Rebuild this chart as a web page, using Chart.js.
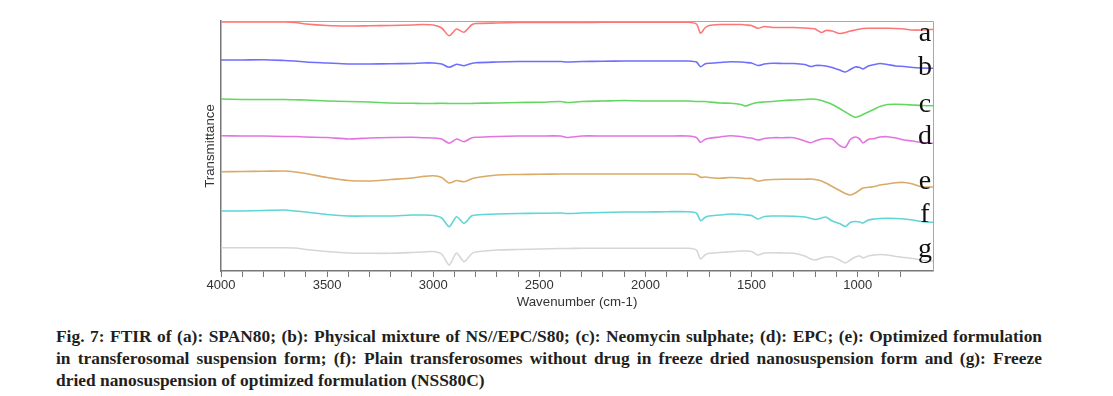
<!DOCTYPE html>
<html>
<head>
<meta charset="utf-8">
<script src="https://cdn.jsdelivr.net/npm/chart.js@4"></script>
<style>
  body { margin: 0; background: #fff; width: 1113px; height: 396px; overflow: hidden; position: relative; }
  #wrap { position: absolute; left: 0; top: 0; width: 1113px; height: 310px; }
  .cap { position: absolute; left: 56px; width: 986px; font: bold 17.4px "Liberation Serif", "Times New Roman", serif; line-height: 20px; color: #231f20; white-space: nowrap; }
  .cap.j { text-align: justify; text-align-last: justify; white-space: normal; }
</style>
</head>
<body>
<div id="wrap"><canvas id="ftirChart" width="1113" height="310"></canvas></div>
<div class="cap j" style="top:326px">Fig. 7: FTIR of (a): SPAN80; (b): Physical mixture of NS//EPC/S80; (c): Neomycin sulphate; (d): EPC; (e): Optimized formulation</div>
<div class="cap j" style="top:348px">in transferosomal suspension form; (f): Plain transferosomes without drug in freeze dried nanosuspension form and (g): Freeze</div>
<div class="cap" style="top:370px">dried nanosuspension of optimized formulation (NSS80C)</div>
<script>
// wavenumber grid (cm-1)
var wavenumbers = [4000, 3900, 3800, 3700, 3650, 3600, 3500, 3400, 3300, 3200, 3100, 3050,
  3000, 2960, 2925, 2890, 2855, 2820, 2800, 2700, 2600, 2500, 2400, 2370, 2300,
  2200, 2100, 2000, 1900, 1800, 1760, 1740, 1720, 1700, 1650, 1600, 1550, 1527, 1500, 1470, 1440, 1400,
  1350, 1300, 1250, 1220, 1200, 1170, 1150, 1120, 1085, 1058,
  1035, 1011, 990, 975, 950, 920, 895, 860, 820, 780, 740, 700, 660, 645];

// transmittance traces (stacked, arbitrary units)
var specA = [249, 249, 249, 249, 248.5, 247, 245.5, 245, 245.2, 245.5, 246, 246.5,
  246, 243, 235.3, 242, 238.7, 246, 247.5, 248, 248.5, 248.5, 248.5, 248.5, 248.5,
  248.7, 248.7, 248.7, 248.7, 248.7, 247, 237.7, 243, 245.5, 246.5, 246.5, 246.5, 246, 245.5, 242.7, 244.5, 243.5,
  243.5, 243.5, 243, 242.5, 242, 238.5, 240.5, 240, 237.5, 238.5,
  240, 241, 242, 242.5, 242.7, 242.7, 242.7, 242.7, 242.5, 242, 241, 241, 241.5, 241.5];
var specB = [211, 211, 211.2, 210.5, 210, 209, 208, 207, 207, 207.3, 207.5, 208,
  208, 207, 203.7, 206.7, 205.3, 207.5, 208.3, 209, 209.5, 209.5, 209.5, 209, 209.5,
  209.7, 210, 210, 210, 210, 209, 204.3, 207, 207.7, 208.5, 209.3, 209, 208.5, 208, 205.5, 207, 207.7,
  207.5, 207.5, 206.5, 204.5, 205.5, 205.5, 205, 203.5, 201, 199,
  201.5, 204, 203.5, 202, 205, 206.5, 207.5, 206.5, 205, 204.5, 203.5, 203, 202.7, 202.7];
var specC = [172, 171.5, 171.5, 171.5, 171.2, 171, 170, 169.5, 169, 168, 167.7, 167.5,
  167.5, 167.7, 167.5, 167.5, 167.5, 167.5, 167.7, 168, 168.5, 168.7, 169.5, 168.5, 169.5,
  170, 170.5, 170, 170, 170, 169.5, 169.5, 169.5, 169, 168, 167.7, 166.5, 165, 167, 168.5, 169, 169.5,
  170.5, 171, 171.5, 172, 171.7, 170.5, 169, 166.5, 162.5, 159,
  156, 153.7, 155, 156.5, 159, 162, 164.5, 166.5, 166.7, 166.5, 166, 165.5, 165.3, 165.3];
var specD = [135.3, 135, 135, 134.5, 134.5, 134, 133.5, 132, 133, 133.5, 133.7, 133.3,
  133, 132, 127.7, 132, 129.3, 133, 133.7, 134.5, 135, 135, 135, 133.5, 135,
  135, 135, 135, 135, 135, 133.5, 128.7, 131.5, 132.7, 134, 135.3, 134.5, 133.5, 133, 131, 132.5, 133.3,
  133.3, 133.3, 130, 128.3, 130, 132, 132.5, 132, 125.5, 123.7,
  131.5, 134, 132, 128, 131.5, 132.5, 134, 134.3, 133, 131, 130, 128.5, 127.7, 127.7];
var specE = [99.3, 99.5, 99.7, 100, 99, 97.5, 93.5, 90.5, 90, 91.5, 93, 94.5,
  95.3, 93.5, 88, 90.5, 89.3, 92, 93.3, 96, 96.5, 96.7, 97, 97, 97,
  97, 97, 97, 97, 97, 96.5, 93.7, 94, 93.5, 92.7, 93.5, 93, 92.5, 92.5, 90, 91, 91.5,
  91.7, 91.7, 91.7, 92, 91.5, 90, 88, 84.5, 80.5, 77.5,
  76, 78, 81, 83, 83.7, 84.5, 86, 87, 88.3, 88.5, 87, 84.3, 84, 84];
var specF = [60, 60, 60.5, 61, 60, 59, 56.5, 55, 55, 55, 56, 56,
  55.5, 53, 44.3, 54.3, 47.7, 55, 56, 57, 57.5, 57.7, 58, 57.5, 58,
  58.5, 59, 59, 59.3, 59.3, 58, 50.3, 53.5, 55, 56, 57, 56.5, 56, 55.5, 52, 54.5, 55,
  55, 54.7, 54, 52.5, 51.5, 53, 54, 50, 47.5, 44.5,
  48.5, 49.5, 49, 48, 51, 52, 52.5, 52.7, 52.5, 52, 51, 49.5, 48.7, 48.7];
var specG = [23.3, 23.3, 23.3, 23.3, 23, 21.5, 19.5, 18, 17.7, 17.7, 18.5, 19,
  19.5, 17, 6, 18, 9.3, 17, 19, 21, 21.5, 22, 22.5, 22.5, 22.7,
  22.7, 22.7, 22.7, 22.7, 22.7, 21, 12, 16, 17.7, 18.5, 19.3, 20, 20, 19.5, 16, 18, 18.3,
  18, 17.7, 15, 12, 11, 13, 14, 14, 11, 8,
  11, 14, 15, 13, 15, 16, 16.5, 16, 14.5, 13.5, 12.5, 11, 10, 10];

var seriesNames = ['a', 'b', 'c', 'd', 'e', 'f', 'g'];
var seriesColors = ['#ff7676', '#6e6eff', '#62d862', '#e274e2', '#d9aa68', '#5fd5d5', '#d6d6d6'];
var allSpectra = [specA, specB, specC, specD, specE, specF, specG];

function toPoints(vals) {
  return vals.map(function (v, i) { return { x: wavenumbers[i], y: v }; });
}

// letters a..g drawn at the right end of each trace, plus top/right frame
var traceLetters = {
  id: 'traceLetters',
  afterDraw: function (chart, args, opts) {
    var c = chart.ctx, a = chart.chartArea, ys = chart.scales.y;
    c.save();
    c.strokeStyle = '#a8a8a8';
    c.lineWidth = 1;
    c.beginPath();
    c.moveTo(a.left, a.top + 0.5);
    c.lineTo(a.right + 0.5, a.top + 0.5);
    c.lineTo(a.right + 0.5, a.bottom);
    c.stroke();
    c.fillStyle = '#111';
    c.font = '28px "Liberation Serif", "Times New Roman", serif';
    c.textAlign = 'center';
    c.textBaseline = 'alphabetic';
    seriesNames.forEach(function (n, i) {
      c.fillText(n, a.right - 8, ys.getPixelForValue(opts.baselines[i]));
    });
    c.restore();
  }
};

var axisFont = { family: 'Liberation Sans, Arial, sans-serif', size: 13 };
var titleFont = { family: 'Liberation Sans, Arial, sans-serif', size: 13.3 };

var ctx = document.getElementById('ftirChart').getContext('2d');
var ftirChart = new Chart(ctx, {
  type: 'line',
  data: {
    datasets: allSpectra.map(function (s, i) {
      return {
        label: seriesNames[i],
        data: toPoints(s),
        borderColor: seriesColors[i],
        borderWidth: 1.6,
        pointRadius: 0,
        tension: 0.25,
        fill: false
      };
    })
  },
  options: {
    responsive: false,
    animation: false,
    layout: { padding: { left: 200, right: 180, top: 21, bottom: 0 } },
    scales: {
      x: {
        type: 'linear',
        reverse: true,
        min: 645,
        max: 4000,
        afterFit: function (s) { s.height = 39; },
        afterBuildTicks: function (s) {
          s.ticks = s.ticks.filter(function (t) { return t.value % 100 === 0; });
        },
        ticks: {
          stepSize: 100,
          autoSkip: false,
          maxRotation: 0,
          padding: 1,
          color: '#333',
          font: axisFont,
          callback: function (v) { return v % 500 === 0 ? String(v) : ''; }
        },
        grid: { drawOnChartArea: false, drawTicks: true, tickLength: 6, color: '#777', lineWidth: 1 },
        border: { display: true, color: '#777', width: 1.5 },
        title: {
          display: true,
          text: 'Wavenumber (cm-1)',
          color: '#333',
          font: titleFont,
          padding: { top: 2, bottom: 0 }
        }
      },
      y: {
        min: 0,
        max: 250,
        afterFit: function (s) { s.width = 21; },
        ticks: { display: false },
        grid: { display: false, drawTicks: false },
        border: { display: true, color: '#777', width: 1.5 },
        title: {
          display: true,
          text: 'Transmittance',
          color: '#333',
          font: titleFont,
          padding: { top: 2, bottom: 0 }
        }
      }
    },
    plugins: {
      legend: { display: false },
      tooltip: { enabled: false },
      traceLetters: { baselines: [230, 196, 159.3, 126.7, 82, 49.3, 14.3] }
    }
  },
  plugins: [traceLetters]
});
</script>
</body>
</html>
